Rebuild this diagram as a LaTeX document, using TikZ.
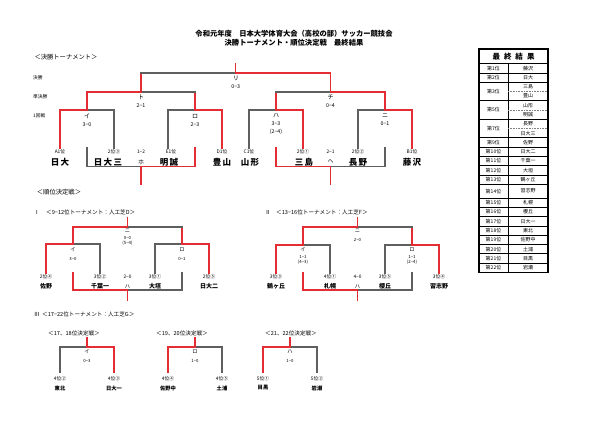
\documentclass[tikz,border=0pt]{standalone}
\usepackage{fontspec}
\setmainfont{Noto Sans CJK JP}
\usetikzlibrary{calc}
\definecolor{rl}{RGB}{228,45,50}
\definecolor{gl}{RGB}{95,95,95}
\newcommand\fsz[1]{\fontsize{#1}{#1}\selectfont}
\newcommand\bkt[9]{%
  \coordinate (#1-l) at (#2,#4);
  \coordinate (#1-r) at (#3,#4);
  \coordinate (#1-c) at ($(#1-l)!0.5!(#1-r)$);
  \coordinate (#1-lb) at (#2,#5);
  \coordinate (#1-rb) at (#3,#5);
  \draw[#8] (#1-l) -- (#1-lb);
  \draw[#9] (#1-r) -- (#1-rb);
  \draw[#6] (#1-c) -- (#1-l);
  \draw[#7] (#1-c) -- (#1-r);
}
\tikzset{
  R/.style={draw=rl,line width=1.2pt,line cap=rect},
  G/.style={draw=gl,line width=1.2pt,line cap=rect},
  t/.style={inner sep=0pt,anchor=center},
  ttl/.style={t,font=\bfseries\fsz{7.3}},
  sec/.style={t,font=\fsz{6.3}},
  rnd/.style={t,anchor=west,font=\fsz{4.7}},
  ml/.style={t,font=\fsz{6}},
  sc/.style={t,font=\fsz{5.3}},
  sd/.style={t,font=\fsz{4.8}},
  nm/.style={t,font=\bfseries\fsz{8.5}},
  ml2/.style={t,font=\fsz{5.2}},
  sc2/.style={t,font=\fsz{4.3}},
  nm2/.style={t,font=\bfseries\fsz{6}},
  sub/.style={t,font=\fsz{5.6}},
  nm3/.style={t,font=\bfseries\fsz{5.3}},
  tb/.style={t,font=\fsz{5}},
  tbh/.style={t,font=\bfseries\fsz{7.5}},
}
\begin{document}
\begin{tikzpicture}[x=1pt,y=-1pt]
\useasboundingbox[fill=white] (0,0) rectangle (600,424);

% titles
\node[ttl] (title1) at (294,34) {令和元年度　日本大学体育大会（高校の部）サッカー競技会};
\node[ttl] (title2) at (294,43) {決勝トーナメント・順位決定戦　最終結果};
\node[sec] (hdA) at (66,57) {＜決勝トーナメント＞};

% round labels
\node[rnd] (r1) at (33,78) {決勝};
\node[rnd] (r2) at (33,97) {準決勝};
\node[rnd] (r3) at (33,116) {1回戦};

% ===== main bracket =====
\bkt{mi}{60}{114}{110}{148}{R}{G}{R}{G}
\bkt{mro}{168}{222}{110}{148}{G}{R}{G}{R}
\bkt{mha}{249}{303}{110}{148}{G}{R}{G}{R}
\bkt{mni}{358}{412}{110}{148}{G}{R}{G}{R}
\bkt{mto}{87}{195}{92}{110}{R}{G}{R}{R}
\bkt{mchi}{276}{385}{92}{110}{G}{R}{R}{R}
\bkt{mri}{141}{330.5}{73}{92}{G}{R}{R}{R}
\coordinate (mri-top) at (235.75,64);
\draw[R] (mri-c) -- (mri-top);
% consolation
\bkt{mho}{87}{195}{166.5}{148}{G}{R}{G}{R}
\bkt{mhe}{276}{385}{166.5}{148}{R}{G}{R}{G}
\coordinate (mho-s) at (141,184);
\coordinate (mhe-s) at (330.5,184);
\draw[R] (mho-c) -- (mho-s);
\draw[R] (mhe-c) -- (mhe-s);

\node[ml] (Lri) at (235.75,78) {リ};
\node[sc] (Sri) at (235.75,87) {0−3};
\node[ml] (Lto) at (141,97) {ト};
\node[sc] (Sto) at (141,106) {2−1};
\node[ml] (Lchi) at (330.5,97) {チ};
\node[sc] (Schi) at (330.5,106) {0−4};
\node[ml] (Li) at (87,116) {イ};
\node[sc] (Si) at (87,125) {3−0};
\node[ml] (Lro) at (195,116) {ロ};
\node[sc] (Sro) at (195,125) {2−3};
\node[ml] (Lha) at (276,115.5) {ハ};
\node[sc] (Sha) at (276,124) {3−3};
\node[sc] (Sha2) at (276,132) {(2−4)};
\node[ml] (Lni) at (385,115.5) {ニ};
\node[sc] (Sni) at (385,124) {0−1};

\node[sd] (d1) at (60,152) {A1位};
\node[sd] (d2) at (114,152) {2位③};
\node[sd] (d3) at (141,152) {1−2};
\node[sd] (d4) at (171,152) {E1位};
\node[sd] (d5) at (222,152) {D1位};
\node[sd] (d6) at (249,152) {C1位};
\node[sd] (d7) at (303,152) {2位①};
\node[sd] (d8) at (330.5,152) {2−1};
\node[sd] (d9) at (358,152) {2位②};
\node[sd] (d10) at (412,152) {B1位};

\node[nm] (n1) at (60,162) {日\,大};
\node[nm] (n2) at (108,162) {日\,大\,三};
\node[ml] (n3) at (141,162) {ホ};
\node[nm] (n4) at (169,162) {明\,誠};
\node[nm] (n5) at (222,162) {豊\,山};
\node[nm] (n6) at (250,162) {山\,形};
\node[nm] (n7) at (304,162) {三\,島};
\node[ml] (n8) at (330.5,162) {ヘ};
\node[nm] (n9) at (358,162) {長\,野};
\node[nm] (n10) at (412,162) {藤\,沢};

% ===== placement =====
\node[sec] (hdB) at (59,192) {＜順位決定戦＞};

% Section I
\node[sub] (s1n) at (37,212) {Ⅰ};
\node[sub,anchor=west] (s1t) at (46,212) {＜9−12位トーナメント：人工芝D＞};
\bkt{ai}{46}{100}{244}{273}{R}{G}{R}{G}
\bkt{aro}{155}{209}{244}{273}{G}{R}{G}{R}
\bkt{ani}{73}{182}{227}{244}{R}{G}{R}{R}
\coordinate (ani-top) at (127.5,218);
\draw[R] (ani-c) -- (ani-top);
\bkt{aha}{73}{182}{290}{273}{R}{G}{R}{G}
\coordinate (aha-s) at (127.5,300);
\draw[R] (aha-c) -- (aha-s);

\node[ml2] (aLni) at (127.5,231) {ニ};
\node[sc2] (aSni) at (127.5,237.5) {0−0};
\node[sc2] (aSni2) at (127.5,243) {(5−4)};
\node[ml2] (aLi) at (73,249.5) {イ};
\node[sc2] (aSi) at (73,259) {3−0};
\node[ml2] (aLro) at (182,249.5) {ロ};
\node[sc2] (aSro) at (182,259) {0−1};
\node[sd] (ad1) at (46,277) {2位④};
\node[sd] (ad2) at (100,277) {3位②};
\node[sd] (ad3) at (127.5,277) {2−0};
\node[sd] (ad4) at (155,277) {3位①};
\node[sd] (ad5) at (209,277) {2位⑤};
\node[nm2] (an1) at (46,286.5) {佐野};
\node[nm2] (an2) at (100,286.5) {千葉一};
\node[ml2] (an3) at (127.5,286.5) {ハ};
\node[nm2] (an4) at (155,286.5) {大垣};
\node[nm2] (an5) at (209,286.5) {日大二};

% Section II
\node[sub] (s2n) at (268,212) {Ⅱ};
\node[sub,anchor=west] (s2t) at (276,212) {＜13−16位トーナメント：人工芝F＞};
\bkt{bi}{276}{330}{245}{273}{R}{G}{R}{G}
\bkt{bro}{385}{439}{245}{273}{G}{R}{G}{R}
\bkt{bni}{303}{412}{227}{245}{R}{G}{R}{R}
\coordinate (bni-top) at (357.5,218);
\draw[R] (bni-c) -- (bni-top);
\bkt{bha}{303}{412}{290}{273}{R}{G}{R}{G}
\coordinate (bha-s) at (357.5,300);
\draw[R] (bha-c) -- (bha-s);

\node[ml2] (bLni) at (357.5,231) {ニ};
\node[sc2] (bSni) at (357.5,240) {2−0};
\node[ml2] (bLi) at (303,250) {イ};
\node[sc2] (bSi) at (303,256.5) {1−1};
\node[sc2] (bSi2) at (303,262.5) {(4−3)};
\node[ml2] (bLro) at (412,250) {ロ};
\node[sc2] (bSro) at (412,256.5) {1−1};
\node[sc2] (bSro2) at (412,262.5) {(2−4)};
\node[sd] (bd1) at (276,277) {3位③};
\node[sd] (bd2) at (330,277) {4位①};
\node[sd] (bd3) at (357.5,277) {4−0};
\node[sd] (bd4) at (385,277) {3位⑤};
\node[sd] (bd5) at (439,277) {3位④};
\node[nm2] (bn1) at (276,286.5) {鶴ヶ丘};
\node[nm2] (bn2) at (330,286.5) {札幌};
\node[ml2] (bn3) at (357.5,286.5) {ハ};
\node[nm2] (bn4) at (385,286.5) {櫻丘};
\node[nm2] (bn5) at (439,286.5) {習志野};

% Section III
\node[sub] (s3n) at (37,314) {Ⅲ};
\node[sub,anchor=west] (s3t) at (42,314) {＜17−22位トーナメント：人工芝G＞};
\node[sub] (c1h) at (74,333) {＜17、18位決定戦＞};
\node[sub] (c2h) at (182,333) {＜19、20位決定戦＞};
\node[sub] (c3h) at (291,333) {＜21、22位決定戦＞};
\bkt{ci}{60}{114}{347}{372}{G}{R}{G}{R}
\bkt{cro}{168}{222}{347}{372}{R}{G}{R}{G}
\bkt{cha}{263}{317}{347}{372}{R}{G}{R}{G}
\coordinate (ci-top) at (87,338);
\coordinate (cro-top) at (195,338);
\coordinate (cha-top) at (290,338);
\draw[R] (ci-c) -- (ci-top);
\draw[R] (cro-c) -- (cro-top);
\draw[R] (cha-c) -- (cha-top);
\node[ml2] (cLi) at (87,352) {イ};
\node[sc2] (cSi) at (87,361) {0−3};
\node[ml2] (cLro) at (195,352) {ロ};
\node[sc2] (cSro) at (195,361) {1−0};
\node[ml2] (cLha) at (290,352) {ハ};
\node[sc2] (cSha) at (290,361) {1−0};
\node[sd] (cd1) at (60,379) {4位②};
\node[sd] (cd2) at (114,379) {4位③};
\node[sd] (cd3) at (168,379) {4位④};
\node[sd] (cd4) at (222,379) {4位⑤};
\node[sd] (cd5) at (263,379) {5位①};
\node[sd] (cd6) at (317,379) {5位②};
\node[nm3] (cn1) at (60,388) {東北};
\node[nm3] (cn2) at (114,388) {日大一};
\node[nm3] (cn3) at (168,388) {佐野中};
\node[nm3] (cn4) at (222,388) {土浦};
\node[nm3] (cn5) at (263,388) {目黒};
\node[nm3] (cn6) at (317,388) {岩瀬};

% ===== results table =====
\coordinate (tnw) at (479,49);
\coordinate (tse) at (548,272.3);
\draw[line width=0.5pt] (508,63.5) -- (508,272.3);
\foreach \yy in {72.78,82.06,100.62,119.18,137.74,147.02,156.30,165.58,174.86,184.14,198.06,207.34,216.62,225.90,235.18,244.46,253.74,263.02}
  \draw[line width=0.5pt] (479,\yy) -- (548,\yy);
\foreach \yy in {91.34,109.9,128.46}
  \draw[line width=0.3pt,gray,dash pattern=on 0.8pt off 0.8pt] (508,\yy) -- (548,\yy);
\draw[line width=1pt] (479,63.5) -- (548,63.5);
\draw[line width=1.1pt] (tnw) rectangle (tse);
\node[tbh] (thd) at (513.5,56.3) {最\hspace{4pt}終\hspace{4pt}結\hspace{4pt}果};
\foreach \yy/\tx [count=\i] in {68.14/第1位,77.42/第2位,91.34/第3位,109.9/第5位,128.46/第7位,142.38/第9位,151.66/第10位,160.94/第11位,170.22/第12位,179.5/第13位,191.1/第14位,202.7/第15位,211.98/第16位,221.26/第17位,230.54/第18位,239.82/第19位,249.1/第20位,258.38/第21位,267.66/第22位}
  \node[tb] (tl\i) at (493.5,\yy) {\tx};
\foreach \yy/\tx [count=\i] in {68.14/藤沢,77.42/日大,86.7/三島,95.98/豊山,105.26/山形,114.54/明誠,123.82/長野,133.1/日大三,142.38/佐野,151.66/日大二,160.94/千葉一,170.22/大垣,179.5/鶴ヶ丘,191.1/習志野,202.7/札幌,211.98/櫻丘,221.26/日大一,230.54/東北,239.82/佐野中,249.1/土浦,258.38/目黒,267.66/岩瀬}
  \node[tb] (tr\i) at (528,\yy) {\tx};
\end{tikzpicture}
\end{document}
